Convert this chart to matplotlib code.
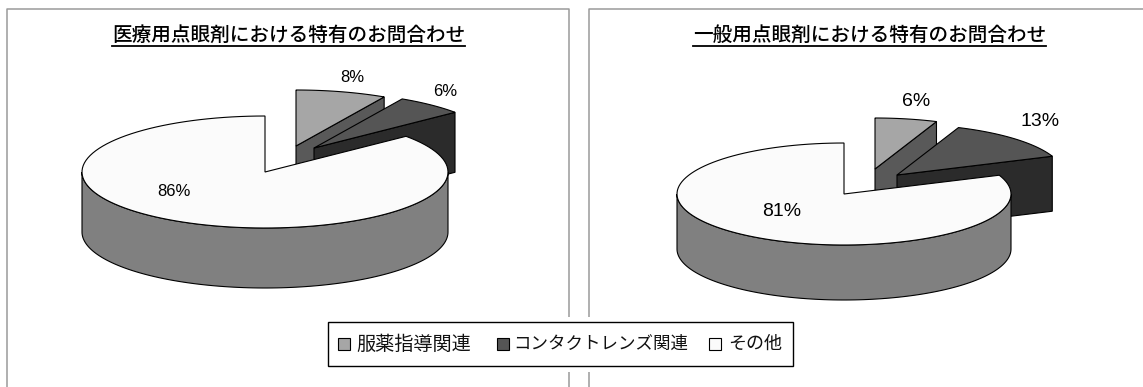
import numpy as np
import matplotlib
matplotlib.use('Agg')
import matplotlib.pyplot as plt
from matplotlib.patches import Polygon, Rectangle

plt.rcParams['font.family'] = ['Noto Sans CJK JP', 'DejaVu Sans']

# データ
series_labels = ['服薬指導関連', 'コンタクトレンズ関連', 'その他']
iryou_title = '医療用点眼剤における特有のお問合わせ'
iryou_values = [8, 6, 86]
ippan_title = '一般用点眼剤における特有のお問合わせ'
ippan_values = [6, 13, 81]

top_colors = ['#a6a6a6', '#555555', '#fbfbfb']
wall_colors = ['#595959', '#2b2b2b', '#808080']
LINE = 0.8
NUM_FONT = ['Liberation Sans', 'DejaVu Sans']


def arc(cx, cy, rx, ry, t0, t1):
    t = np.radians(np.linspace(t0, t1, 120))
    return np.column_stack([cx + rx*np.sin(t), cy - ry*np.cos(t)])


def pie3d(ax, cx, cy, rx, ry, depth, values, shifts):
    # 12時の位置から時計回りに、奥の切片から順に描く
    edges = np.concatenate([[0], np.cumsum(values)]) / sum(values) * 360
    for i in range(len(values)):
        t0, t1 = edges[i], edges[i+1]
        ox = cx + shifts[i][0]
        oy = cy + shifts[i][1]
        rim = arc(ox, oy, rx, ry, t0, t1)
        # 切断面
        if t1 < 180:
            wall = np.array([[ox, oy], rim[-1], rim[-1] + [0, depth], [ox, oy + depth]])
            ax.add_patch(Polygon(wall, fc=wall_colors[i], ec='black', lw=LINE, zorder=2+i))
        # 外周の側面
        a0, a1 = max(t0, 90), min(t1, 270)
        if a1 > a0:
            front = arc(ox, oy, rx, ry, a0, a1)
            side = np.vstack([front, front[::-1] + [0, depth]])
            ax.add_patch(Polygon(side, fc=wall_colors[i], ec='black', lw=LINE, zorder=2+i))
        # 上面
        ax.add_patch(Polygon(np.vstack([[ox, oy], rim]), fc=top_colors[i], ec='black',
                             lw=LINE, zorder=2+i))


fig = plt.figure(figsize=(11.43, 3.87), dpi=100)
ax = fig.add_axes([0, 0, 1, 1])
ax.set_xlim(0, 1143)
ax.set_ylim(387, 0)
ax.axis('off')

# 枠線
frame = '#9a9a9a'
ax.plot([6.5, 6.5, 569, 569], [387, 9, 9, 387], color=frame, lw=1.1, zorder=1)
ax.plot([589, 589, 1143], [387, 9, 9], color=frame, lw=1.1, zorder=1)

# 円グラフ
pie3d(ax, 265, 172, 183, 56, 60, iryou_values, [(31, -26), (49, -24), (0, 0)])
pie3d(ax, 844, 194, 167, 51, 55, ippan_values, [(31, -25), (53, -19), (0, 0)])

# タイトル
ax.text(288.5, 35, iryou_title, fontsize=14.1, fontweight='medium', ha='center', va='center', zorder=6)
ax.plot([112, 465], [46, 46], color='black', lw=1.3, zorder=6)
ax.text(870, 35, ippan_title, fontsize=14.1, fontweight='medium', ha='center', va='center', zorder=6)
ax.plot([693, 1046], [46, 46], color='black', lw=1.3, zorder=6)

# パーセント表示
left_pos = [(352, 77), (445, 91), (174, 191)]
right_pos = [(916, 102), (1040, 121), (782, 212)]
for v, (x, y) in zip(iryou_values, left_pos):
    ax.text(x, y, f'{v}%', family=NUM_FONT, fontsize=12, ha='center', va='center', zorder=6)
for v, (x, y) in zip(ippan_values, right_pos):
    ax.text(x, y, f'{v}%', family=NUM_FONT, fontsize=14, ha='center', va='center', zorder=6)

# 凡例
ax.add_patch(Rectangle((322, 317), 478, 55, fc='white', ec='none', zorder=7))
ax.add_patch(Rectangle((328, 322), 465, 44, fc='white', ec='black', lw=1.0, zorder=8))
swatch_x = [338, 497, 709]
text_x = [356, 513, 728]
label_size = [13.8, 12.6, 13]
for i, label in enumerate(series_labels):
    ax.add_patch(Rectangle((swatch_x[i], 338), 12, 12, fc=top_colors[i], ec='black',
                           lw=0.8, zorder=9))
    ax.text(text_x[i], 344, label, fontsize=label_size[i], ha='left', va='center', zorder=9,
            color='#111111')

fig.savefig('out.png', dpi=100)
